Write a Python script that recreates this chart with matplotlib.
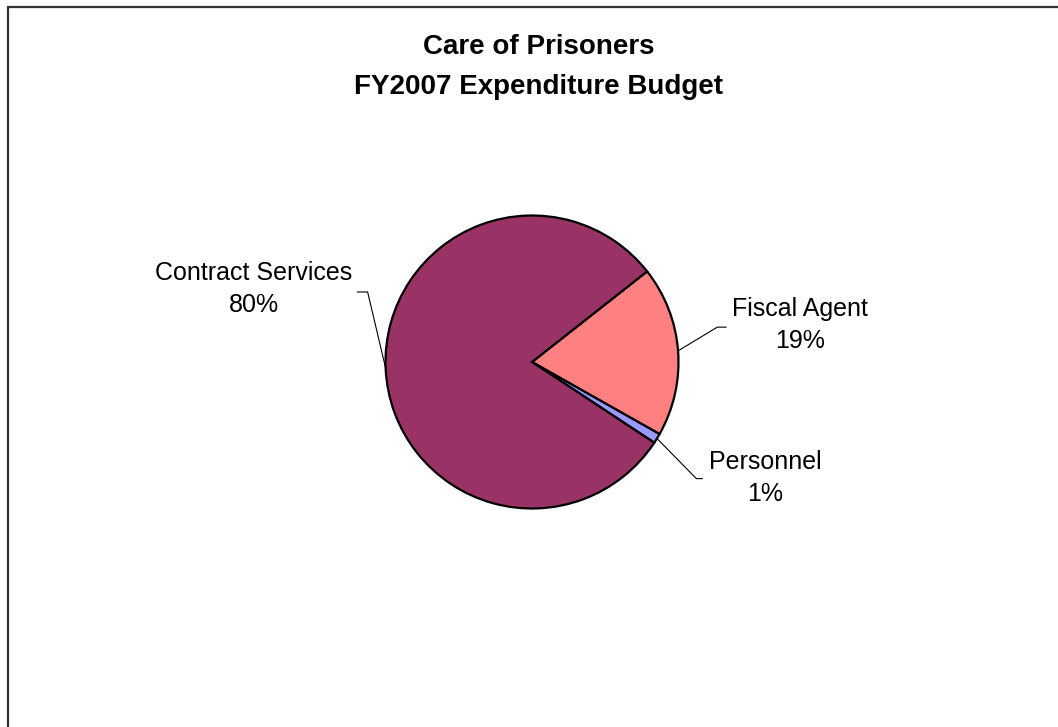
import numpy as np
import matplotlib.pyplot as plt
from matplotlib.patches import Rectangle

plt.rcParams['font.family'] = ['Liberation Sans', 'DejaVu Sans']

# budget shares (percent), drawn clockwise starting from the upper-right boundary
categories = ['Fiscal Agent', 'Personnel', 'Contract Services']
shares = [18.8, 1.1, 80.1]
colors = ['#FF8080', '#9999FF', '#993366']

# where each label sits (data units, pie radius = 1) and its leader elbow
label_pos = {'Fiscal Agent': (1.83, 0.25),
             'Personnel': (1.59, -0.79),
             'Contract Services': (-1.90, 0.50)}
elbow_pos = {'Fiscal Agent': (1.265, 0.238),
             'Personnel': (1.122, -0.796),
             'Contract Services': (-1.122, 0.478)}
tail_dx = {'Fiscal Agent': 0.06, 'Personnel': 0.04, 'Contract Services': -0.07}

W, H = 1058, 727
fig = plt.figure(figsize=(W / 100, H / 100), dpi=100)

# outer chart border (runs off the right and bottom edges)
fig.patches.append(Rectangle((7.5 / W, -0.1), 1.2, 1.1 - 7.5 / H,
                             transform=fig.transFigure, fill=False,
                             edgecolor='#333333', linewidth=1.6))

cx, cy, r = 532, 362, 146.5
ax = fig.add_axes([(cx - r) / W, (H - cy - r) / H, 2 * r / W, 2 * r / H])

start = 38.2
wedges, _ = ax.pie(shares, colors=colors, startangle=start, counterclock=False,
                   radius=1, wedgeprops=dict(edgecolor='black', linewidth=1.6))
ax.set_xlim(-1, 1)
ax.set_ylim(-1, 1)
ax.set_aspect('equal')
ax.axis('off')

for w, name, val in zip(wedges, categories, shares):
    mid = np.deg2rad((w.theta1 + w.theta2) / 2)
    x0, y0 = np.cos(mid), np.sin(mid)
    ex, ey = elbow_pos[name]
    ax.plot([x0, ex, ex + tail_dx[name]], [y0, ey, ey], color='black',
            linewidth=0.8, clip_on=False)
    lx, ly = label_pos[name]
    ax.text(lx, ly, f"{name}\n{val:.0f}%", ha='center', va='center',
            multialignment='center', fontsize=18, linespacing=1.42,
            clip_on=False)

tx = 539 / W
fig.text(tx, 1 - 47 / H, 'Care of Prisoners', ha='center', va='center',
         fontsize=20, fontweight='bold')
fig.text(tx, 1 - 87 / H, 'FY2007 Expenditure Budget', ha='center',
         va='center', fontsize=20, fontweight='bold')

fig.savefig('out.png', dpi=100)
